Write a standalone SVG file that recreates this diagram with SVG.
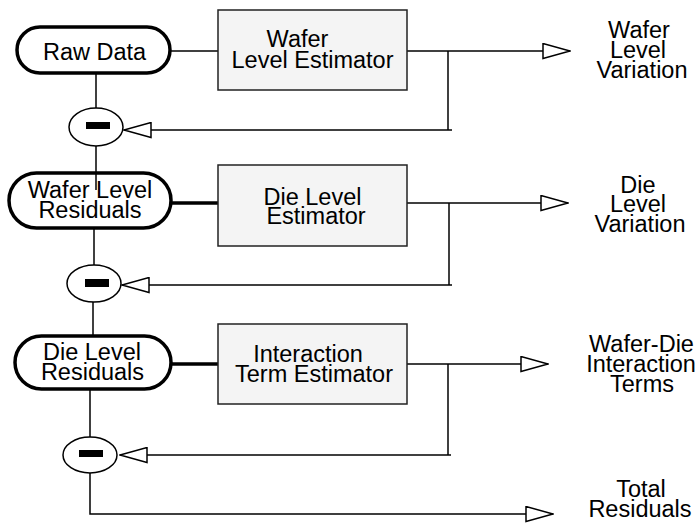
<svg xmlns="http://www.w3.org/2000/svg" width="696" height="523" viewBox="0 0 696 523">
<defs>
<style>
text{font-family:"Liberation Sans",Arial,Helvetica,sans-serif;font-size:23.5px;fill:#000;text-anchor:middle}
.pill{fill:#fff;stroke:#000;stroke-width:3.5}
.box{fill:#f4f4f4;stroke:#222;stroke-width:1.5}
.sub{fill:#fff;stroke:#000;stroke-width:1.5}
.bar{fill:#000}
.ln{fill:none;stroke:#000;stroke-width:1.5}
.thick{fill:none;stroke:#000;stroke-width:3.5}
</style>
<marker id="tri" viewBox="0 0 29 17" refX="28" refY="8.5" markerWidth="29" markerHeight="17" markerUnits="userSpaceOnUse" orient="auto">
<path d="M1,1 L28,8.5 L1,16 Z" fill="#fff" stroke="#000" stroke-width="1.5"/>
</marker>
</defs>
<rect width="696" height="523" fill="#fff"/>
<g id="connectors">
<line class="ln" x1="170" y1="51" x2="218" y2="51"/>
<line class="thick" x1="171" y1="203" x2="218" y2="203"/>
<line class="thick" x1="171" y1="364" x2="218" y2="364"/>
<line class="ln" x1="96" y1="73" x2="96" y2="108"/>
<line class="ln" x1="96" y1="146" x2="96" y2="190"/>
<line class="ln" x1="94" y1="228" x2="94" y2="265"/>
<line class="ln" x1="93" y1="302" x2="93" y2="336"/>
<line class="ln" x1="90" y1="389" x2="90" y2="437"/>
<path class="ln" d="M90,473 V514 H553" marker-end="url(#tri)"/>
<path class="ln" d="M407,51 H570" marker-end="url(#tri)"/>
<path class="ln" d="M407,203 H568" marker-end="url(#tri)"/>
<path class="ln" d="M407,364 H548" marker-end="url(#tri)"/>
<path class="ln" d="M448,51 V130"/>
<path class="ln" d="M449,203 V285"/>
<path class="ln" d="M448,364 V455"/>
<path class="ln" d="M452,130 H124" marker-end="url(#tri)"/>
<path class="ln" d="M452,285 H122" marker-end="url(#tri)"/>
<path class="ln" d="M451,455 H120" marker-end="url(#tri)"/>
</g>
<g id="raw-data">
<rect class="pill" x="17" y="27" width="153" height="46" rx="23"/>
<text x="94.5" y="60">Raw Data</text>
</g>
<g id="wafer-level-estimator">
<rect class="box" x="218" y="10" width="189" height="80"/>
<text x="297.5" y="47">Wafer</text>
<text x="312.5" y="68">Level Estimator</text>
</g>
<g id="sub1">
<ellipse class="sub" cx="96" cy="127" rx="27" ry="19"/>
<rect class="bar" x="86" y="122" width="24" height="7"/>
</g>
<g id="wafer-level-residuals">
<rect class="pill" x="9" y="173" width="162" height="55" rx="27.5"/>
<line class="ln" x1="96" y1="173" x2="96" y2="190"/>
<text x="90" y="198">Wafer Level</text>
<text x="90" y="218">Residuals</text>
</g>
<g id="die-level-estimator">
<rect class="box" x="218" y="165" width="189" height="81"/>
<text x="312.5" y="205">Die Level</text>
<text x="316" y="224">Estimator</text>
</g>
<g id="sub2">
<ellipse class="sub" cx="94" cy="283.5" rx="27" ry="18.5"/>
<rect class="bar" x="85" y="279" width="24" height="8"/>
</g>
<g id="die-level-residuals">
<rect class="pill" x="15" y="336" width="156" height="53" rx="26.5"/>
<text x="92" y="360">Die Level</text>
<text x="92.5" y="380">Residuals</text>
</g>
<g id="interaction-term-estimator">
<rect class="box" x="218" y="324" width="189" height="80"/>
<text x="308" y="362">Interaction</text>
<text x="314" y="382">Term Estimator</text>
</g>
<g id="sub3">
<ellipse class="sub" cx="90" cy="455" rx="27" ry="18"/>
<rect class="bar" x="79" y="450" width="24" height="7"/>
</g>
<g id="wafer-level-variation">
<text x="639" y="38">Wafer</text>
<text x="638" y="58">Level</text>
<text x="642" y="78">Variation</text>
</g>
<g id="die-level-variation">
<text x="638" y="193">Die</text>
<text x="638" y="212">Level</text>
<text x="640" y="232">Variation</text>
</g>
<g id="wafer-die-interaction-terms">
<text x="641.5" y="352">Wafer-Die</text>
<text x="641" y="372">Interaction</text>
<text x="642" y="392">Terms</text>
</g>
<g id="total-residuals">
<text x="641" y="497">Total</text>
<text x="640" y="517">Residuals</text>
</g>
</svg>
